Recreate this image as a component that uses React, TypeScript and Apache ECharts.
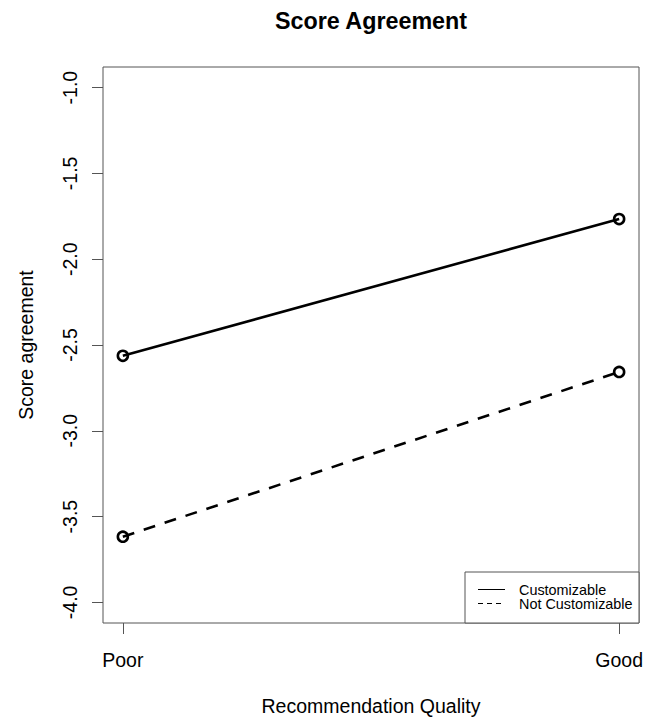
import React, { useEffect, useRef } from "react";
import * as echarts from "echarts";

const categories = ["Poor", "Good"];
const seriesNames = ["Customizable", "Not Customizable"];
const customizable = [-2.563, -1.766];
const notCustomizable = [-3.617, -2.657];
const yTicks = [-4.0, -3.5, -3.0, -2.5, -2.0, -1.5, -1.0];
const xTicks = [1, 2];

const FONT = "'Liberation Sans', Arial, Helvetica, sans-serif";

export default function App() {
  const ref = useRef<HTMLDivElement>(null);
  useEffect(() => {
    if (!ref.current) return;
    const chart = echarts.init(ref.current, undefined, { renderer: "svg" });
    const toPts = (arr: number[]) => arr.map((v, i) => [xTicks[i], v]);
    chart.setOption({
      animation: false,
      backgroundColor: "#fff",
      title: {
        text: "Score Agreement",
        left: 275,
        top: 9,
        padding: 0,
        textStyle: { fontFamily: FONT, fontSize: 23.3, fontWeight: "bold", color: "#000" },
      },
      grid: { left: 103, right: 17, top: 67, bottom: 100, show: true, borderColor: "#555", borderWidth: 1, backgroundColor: "transparent" },
      xAxis: {
        type: "value",
        min: 0.96,
        max: 2.04,
        name: "Recommendation Quality",
        nameLocation: "middle",
        nameGap: 73,
        nameTextStyle: { fontFamily: FONT, fontSize: 19.5, color: "#000" },
        axisLine: { show: false },
        splitLine: { show: false },
        axisTick: { show: true, customValues: xTicks, length: 11, lineStyle: { color: "#555", width: 1 } },
        axisLabel: {
          customValues: xTicks,
          formatter: (v: number) => categories[Math.round(v) - 1] ?? "",
          fontFamily: FONT,
          fontSize: 19.5,
          color: "#000",
          margin: 27,
        },
      },
      yAxis: {
        type: "value",
        min: -4.12,
        max: -0.88,
        name: "Score agreement",
        nameLocation: "middle",
        nameRotate: 90,
        nameGap: 67,
        nameTextStyle: { fontFamily: FONT, fontSize: 19.5, color: "#000" },
        axisLine: { show: false },
        splitLine: { show: false },
        axisTick: { show: true, customValues: yTicks, length: 11, lineStyle: { color: "#555", width: 1 } },
        axisLabel: {
          customValues: yTicks,
          rotate: 90,
          formatter: (v: number) => v.toFixed(1),
          fontFamily: FONT,
          fontSize: 19.5,
          color: "#000",
          margin: 23,
        },
      },
      series: [
        {
          name: seriesNames[0],
          type: "line",
          data: toPts(customizable),
          symbol: "circle",
          symbolSize: 10,
          lineStyle: { color: "#000", width: 2.6, type: "solid" },
          itemStyle: { color: "rgba(0,0,0,0)", borderColor: "#000", borderWidth: 2.6 },
        },
        {
          name: seriesNames[1],
          type: "line",
          data: toPts(notCustomizable),
          symbol: "circle",
          symbolSize: 10,
          lineStyle: { color: "#000", width: 2.6, type: [12, 10] },
          itemStyle: { color: "rgba(0,0,0,0)", borderColor: "#000", borderWidth: 2.6 },
        },
      ],
      graphic: [
        {
          type: "group",
          z: 100,
          children: [
            { type: "rect", shape: { x: 465, y: 572, width: 174, height: 51 }, style: { fill: "#fff", stroke: "#555", lineWidth: 1 } },
            { type: "line", shape: { x1: 478, y1: 589.5, x2: 505, y2: 589.5 }, style: { stroke: "#000", lineWidth: 1 } },
            { type: "line", shape: { x1: 478, y1: 603.5, x2: 505, y2: 603.5 }, style: { stroke: "#000", lineWidth: 1, lineDash: [5, 4] } },
            { type: "text", x: 519, y: 589.5, style: { text: seriesNames[0], font: `14.4px ${FONT}`, fill: "#000", verticalAlign: "middle", align: "left" } },
            { type: "text", x: 519, y: 604, style: { text: seriesNames[1], font: `14.4px ${FONT}`, fill: "#000", verticalAlign: "middle", align: "left" } },
          ],
        },
      ],
    });
    return () => chart.dispose();
  }, []);
  return <div ref={ref} style={{ position: "absolute", left: 0, top: 0, width: 656, height: 723 }} />;
}
